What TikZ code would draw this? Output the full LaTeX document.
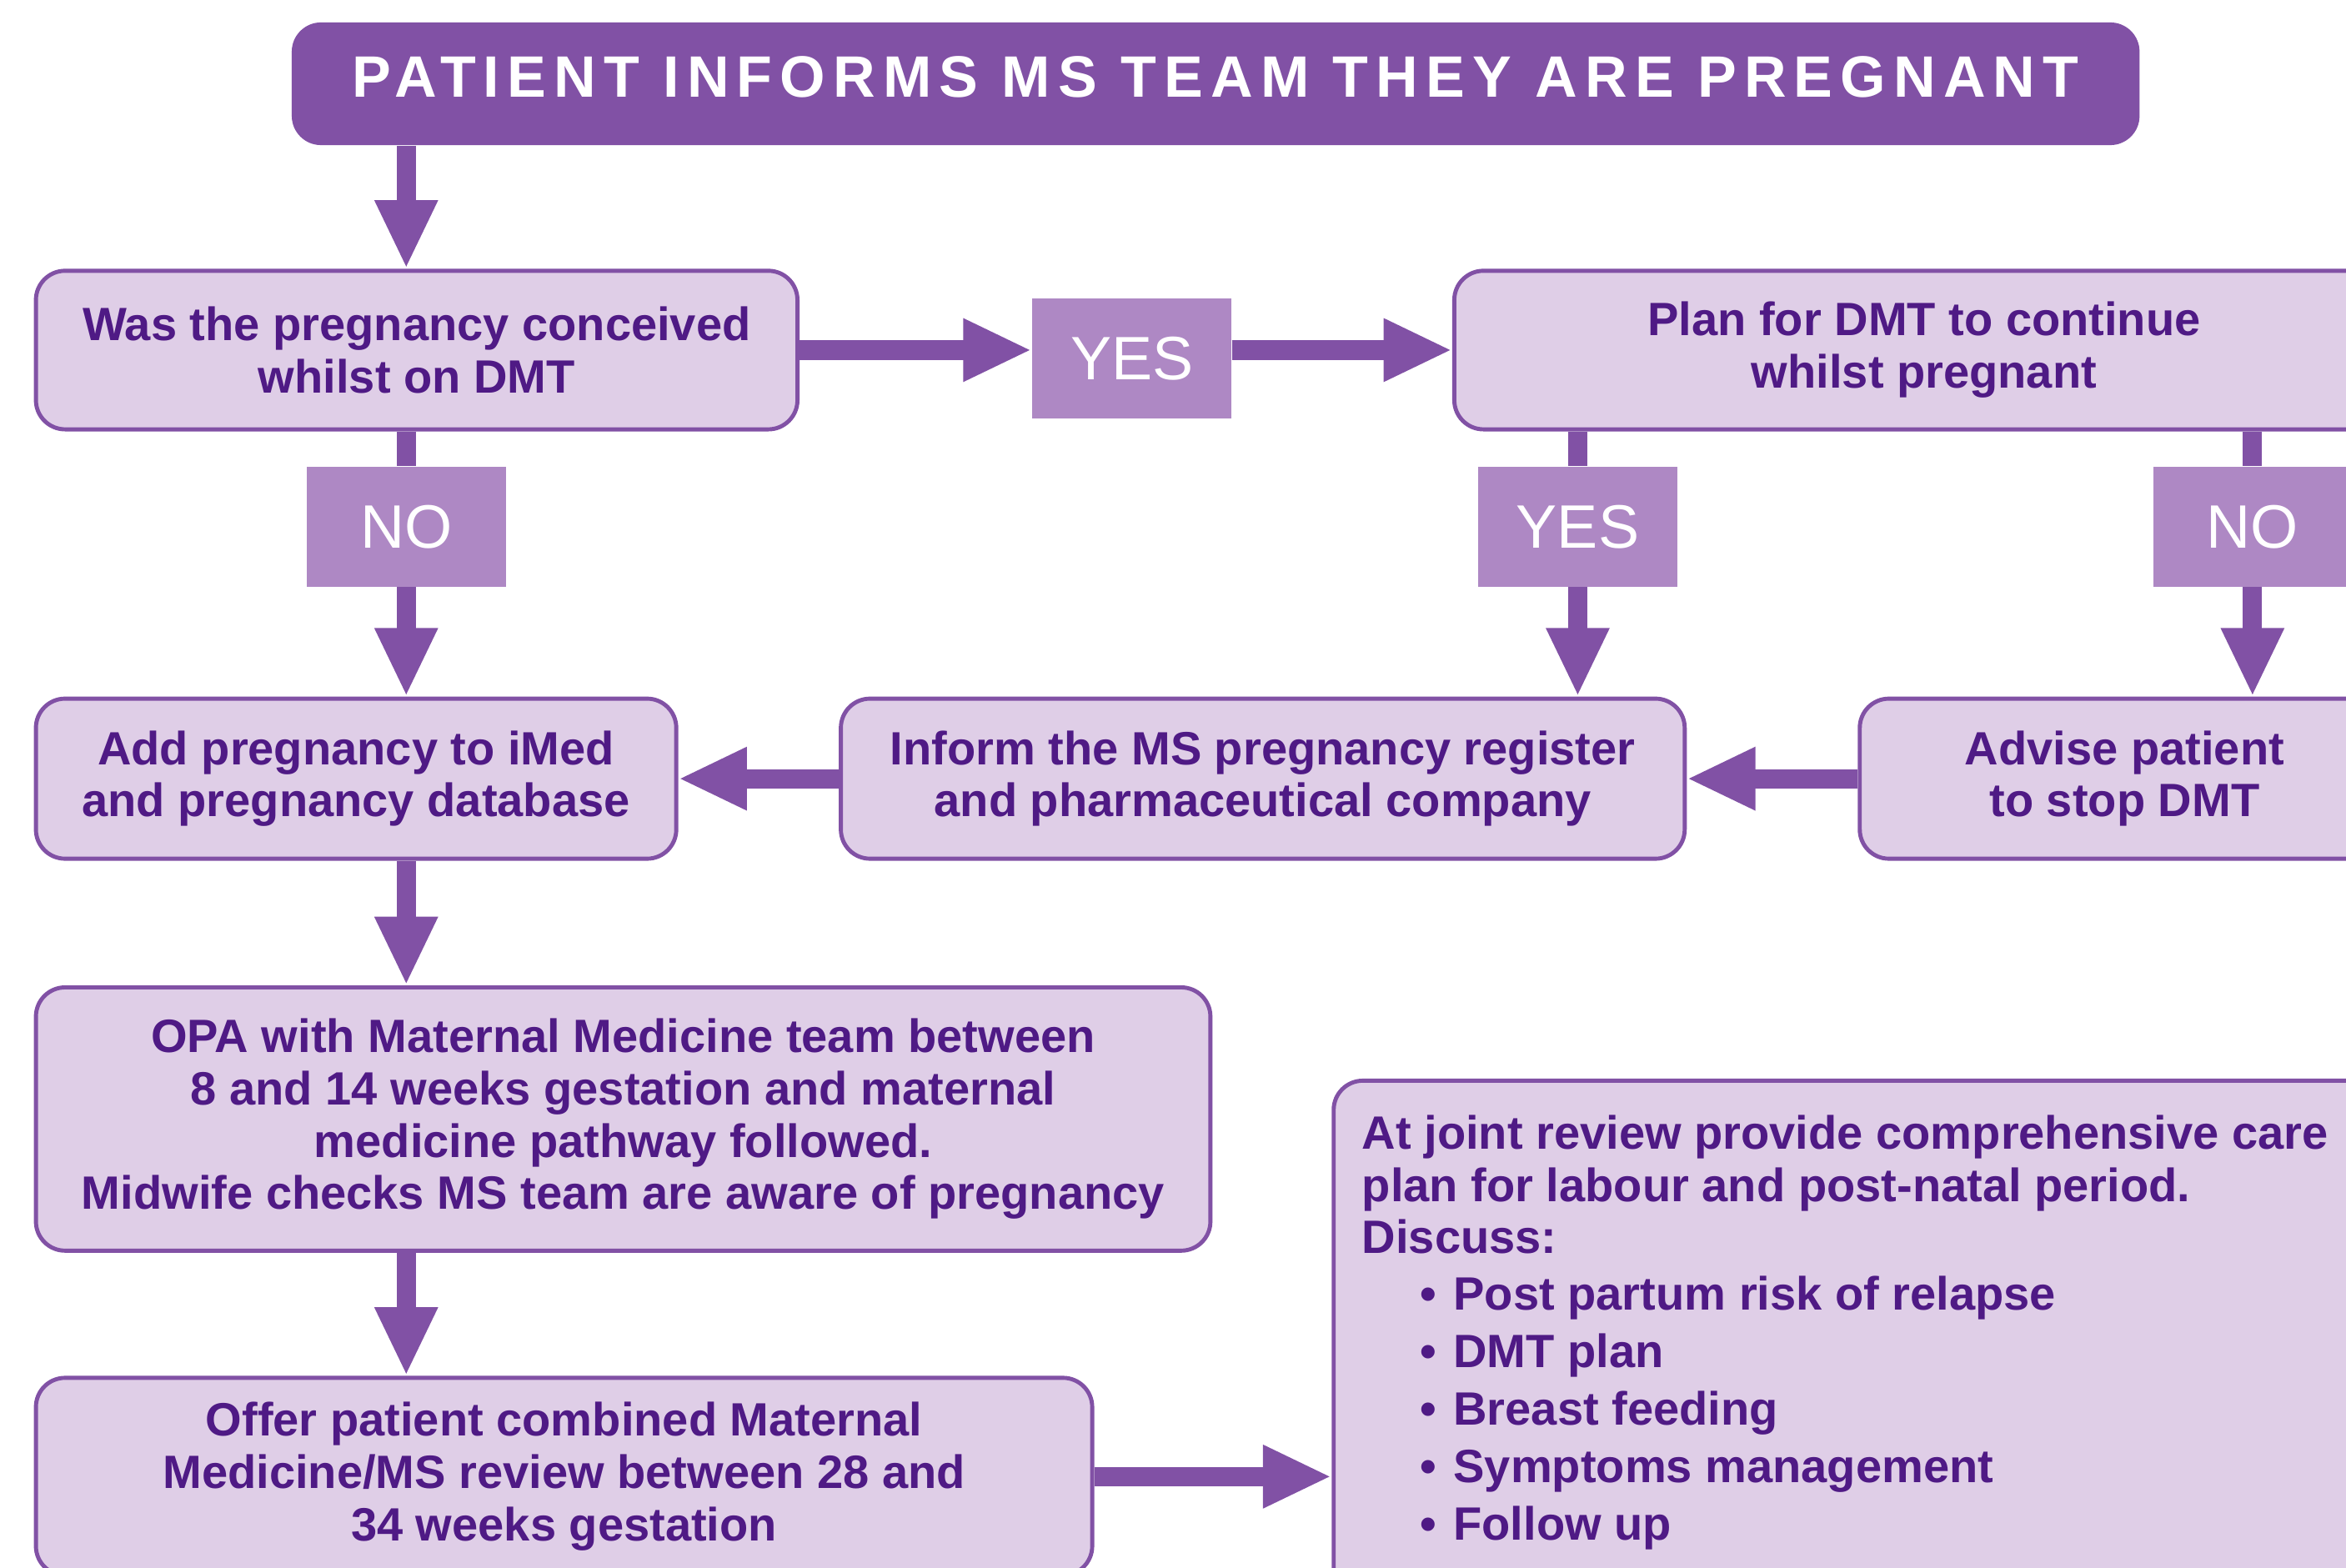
\documentclass[tikz,border=0pt]{standalone}
\usepackage{fontspec}
\setmainfont{Liberation Sans}
\newfontfamily\headfont{Liberation Sans}[LetterSpace=13]
\usetikzlibrary{arrows.meta}

\definecolor{msdeep}{HTML}{8151A5}
\definecolor{mslilac}{HTML}{DFCEE7}
\definecolor{msmauve}{HTML}{AE88C4}
\definecolor{msink}{HTML}{4F1A85}

\newcommand{\dpx}{0.018cm}

\tikzset{
  box/.style={draw=msdeep, line width=1.4pt, fill=mslilac, rounded corners=10pt,
    text=msink, font=\bfseries\fontsize{16}{17.9}\selectfont, align=center, inner sep=0pt},
  tag/.style={fill=msmauve, text=white, font=\fontsize{21}{24}\selectfont,
    minimum width=133*\dpx, minimum height=80*\dpx, inner sep=0pt},
  shaft/.style={msdeep, line width=6.6pt},
  flow/.style={shaft, -{Triangle[length=23.5pt, width=20pt]}}
}

\begin{document}
\begin{tikzpicture}[x=\dpx, y=-\dpx]
  \useasboundingbox (0,0) rectangle (1568,1048);
  \clip (0,0) rectangle (1568,1048);

  % ---- title bar -----------------------------------------------------------
  \node[fill=msdeep, rounded corners=10pt, text=white, minimum width=1235*\dpx,
    minimum height=82*\dpx, inner sep=0pt, text depth=9*\dpx,
    font=\headfont\bfseries\fontsize{20}{23}\selectfont] (head) at (812.5,56)
    {PATIENT INFORMS MS TEAM THEY ARE PREGNANT};

  % ---- decision boxes ------------------------------------------------------
  \node[box, minimum width=509*\dpx, minimum height=106*\dpx] (q1) at (278.5,234)
    {Was the pregnancy conceived\\whilst on DMT};
  \node[box, minimum width=628*\dpx, minimum height=106*\dpx] (plan) at (1286,234)
    {Plan for DMT to continue\\whilst pregnant};

  % ---- middle row ----------------------------------------------------------
  \node[box, minimum width=428*\dpx, minimum height=107*\dpx] (add) at (238,520.5)
    {Add pregnancy to iMed\\and pregnancy database};
  \node[box, minimum width=564*\dpx, minimum height=107*\dpx] (inform) at (844,520.5)
    {Inform the MS pregnancy register\\and pharmaceutical company};
  \node[box, minimum width=354*\dpx, minimum height=107*\dpx] (advise) at (1420,520.5)
    {Advise patient\\to stop DMT};

  % ---- lower boxes ---------------------------------------------------------
  \node[box, minimum width=785*\dpx, minimum height=176*\dpx] (opa) at (416.5,748)
    {OPA with Maternal Medicine team between\\8 and 14 weeks gestation and maternal\\
     medicine pathway followed.\\Midwife checks MS team are aware of pregnancy};
  \node[box, minimum width=706*\dpx, minimum height=132*\dpx] (offer) at (377,987)
    {Offer patient combined Maternal\\Medicine/MS review between 28 and\\34 weeks gestation};
  \node[box, anchor=north west, minimum width=720*\dpx, minimum height=360*\dpx]
    (review) at (890,721) {};
  \node[anchor=north west, align=left, inner sep=0pt, text=msink,
    font=\bfseries\fontsize{16}{17.9}\selectfont] (reviewtext)
    at ([shift={(20,24)}]review.north west)
    {At joint review provide comprehensive care\\
     plan for labour and post-natal period.\\
     Discuss:\\[1.4pt]
     \hspace*{20pt}\textbullet\hspace{5.7pt}Post partum risk of relapse\\[1.8pt]
     \hspace*{20pt}\textbullet\hspace{5.7pt}DMT plan\\[1.8pt]
     \hspace*{20pt}\textbullet\hspace{5.7pt}Breast feeding\\[1.8pt]
     \hspace*{20pt}\textbullet\hspace{5.7pt}Symptoms management\\[1.8pt]
     \hspace*{20pt}\textbullet\hspace{5.7pt}Follow up};

  % ---- yes / no tags -------------------------------------------------------
  \foreach \nm/\cx/\cy/\word in {yes1/756.5/239.5/YES, no1/271.5/352/NO,
                                 yes2/1054.5/352/YES, no2/1505.5/352/NO}{
    \node[tag] (\nm) at (\cx,\cy) {\word};
  }

  % ---- connectors ----------------------------------------------------------
  \draw[flow] (head.south -| no1) -- (q1.north -| no1);
  \draw[flow] (q1.east) -- (q1.east -| yes1.west);
  \draw[flow] (yes1.east |- q1.east) -- (plan.west);
  \draw[shaft] (q1.south -| no1) -- (no1.north);
  \draw[flow] (no1.south) -- (no1.south |- add.north);
  \draw[shaft] (plan.south -| yes2) -- (yes2.north);
  \draw[flow] (yes2.south) -- (yes2.south |- inform.north);
  \draw[shaft] (plan.south -| no2) -- (no2.north);
  \draw[flow] (no2.south) -- (no2.south |- advise.north);
  \draw[flow] (advise.west) -- (inform.east);
  \draw[flow] (inform.west) -- (add.east);
  \draw[flow] (add.south -| no1) -- (opa.north -| no1);
  \draw[flow] (opa.south -| no1) -- (offer.north -| no1);
  \draw[flow] (offer.east) -- (offer.east -| review.west);
\end{tikzpicture}
\end{document}
